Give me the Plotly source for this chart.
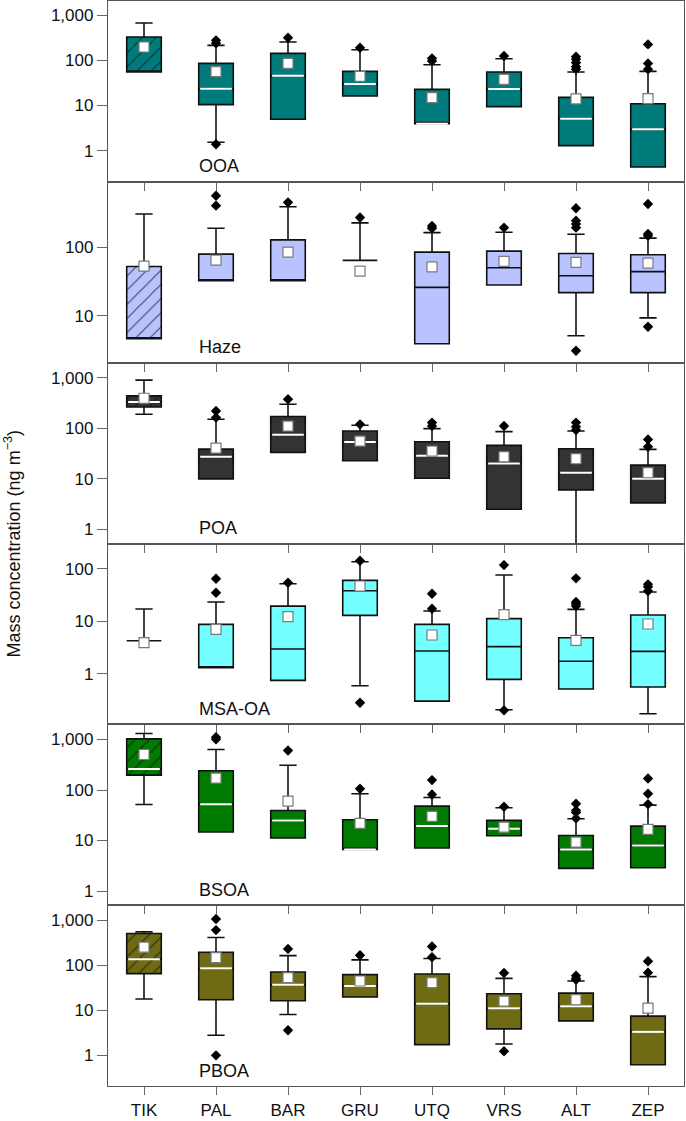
import plotly.graph_objects as go
from plotly.subplots import make_subplots

sites = ["TIK", "PAL", "BAR", "GRU", "UTQ", "VRS", "ALT", "ZEP"]
species = ["OOA", "Haze", "POA", "MSA-OA", "BSOA", "PBOA"]

# ---- OOA ----
ooa_lower = [55, 1.53, 4.93, 16.2, 3.95, 9.4, 1.29, 0.435]
ooa_q1 = [55, 10.4, 4.93, 16.2, 3.95, 9.4, 1.29, 0.435]
ooa_median = [55, 23.5, 45.5, 29.8, 3.95, 23.1, 5.1, 2.96]
ooa_q3 = [326, 85, 142, 56.7, 22.7, 54.8, 15.1, 10.9]
ooa_upper = [664, 213, 253, 171, 79.7, 108, 55, 56.7]
ooa_mean = [196, 55.8, 85, 44, 14.9, 37.8, 13.9, 14.1]
ooa_outliers = [[], [275, 236, 1.38], [315], [189], [110, 96], [124], [120, 105, 88, 72, 63], [224, 85, 63]]

# ---- Haze ----
haze_lower = [4.62, 32.7, 32.7, 64.7, 3.91, 28.3, 5.12, 9.35]
haze_q1 = [4.62, 32.7, 32.7, 64.7, 3.91, 28.3, 21.9, 21.9]
haze_median = [4.62, 32.7, 32.7, 64.7, 26.1, 50.6, 38.6, 44.3]
haze_q3 = [52.8, 80, 129, 64.7, 85.5, 88.5, 81.8, 78.2]
haze_upper = [309, 191, 395, 229, 165, 167, 156, 137]
haze_mean = [53.5, 65.5, 85.5, 45.2, 52.2, 62.5, 60.5, 59.1]
haze_outliers = [[], [571, 409], [457], [274], [207, 191], [195], [374, 247, 221, 195, 3.09], [433, 158, 148, 6.92]]

# ---- POA ----
poa_lower = [190, 10, 33.4, 22.8, 10.3, 2.5, 0.3, 3.34]
poa_q1 = [265, 10, 33.4, 22.8, 10.3, 2.5, 6.04, 3.34]
poa_median = [334, 27.4, 74.8, 53.5, 28.6, 20.2, 13.2, 10]
poa_q3 = [439, 38.8, 171, 88.5, 54.3, 45.9, 39.5, 18.7]
poa_upper = [899, 151, 300, 115, 98.5, 85.9, 88.5, 38.3]
poa_mean = [394, 40.6, 111, 56, 35.5, 27.4, 25, 13.2]
poa_outliers = [[], [221, 163], [377], [120], [130, 111], [111], [130, 108, 93], [60.4, 43.3]]

# ---- MSA-OA ----
msa_lower = [4.25, 1.3, 0.746, 0.59, 0.30, 0.206, 0.51, 0.173]
msa_q1 = [4.25, 1.3, 0.746, 12.9, 0.30, 0.78, 0.51, 0.557]
msa_median = [4.25, 1.3, 2.95, 38.1, 2.7, 3.27, 1.72, 2.66]
msa_q3 = [4.25, 8.7, 19.4, 59.9, 8.7, 11.2, 4.85, 13.1]
msa_upper = [17.1, 23.2, 51.8, 136, 15.6, 75.7, 16.8, 35.9]
msa_mean = [3.9, 6.99, 12.2, 46.8, 5.45, 13.3, 4.31, 8.83]
msa_outliers = [[], [64.5, 34.9], [54.1], [142, 0.28], [33.4, 17.3], [117, 0.2], [65.5, 23.2, 21.5, 19.4], [50.3, 45.4, 37.6]]

# ---- BSOA ----
bsoa_lower = [51.8, 14.7, 11.2, 6.67, 7.09, 12.4, 2.81, 2.89]
bsoa_q1 = [197, 14.7, 11.2, 6.67, 7.09, 12.4, 2.81, 2.89]
bsoa_median = [259, 52.5, 25, 6.67, 19.3, 17.1, 6.67, 8.0]
bsoa_q3 = [1030, 240, 39.4, 25.8, 48, 25, 12.6, 19.3]
bsoa_upper = [1312, 633, 310, 84.1, 71.2, 44.5, 26.9, 50.2]
bsoa_mean = [504, 172, 60.2, 21.8, 30, 18.4, 9.31, 16.6]
bsoa_outliers = [[], [1110, 1014], [605], [106], [157, 81.6], [46.5], [53.3, 39.4, 36, 27.4], [169, 84.1, 52.5]]

# ---- PBOA ----
pboa_lower = [17.7, 2.79, 8.05, 19.6, 1.73, 1.79, 5.82, 0.62]
pboa_q1 = [64.8, 17.1, 16.2, 19.6, 1.73, 3.86, 5.82, 0.62]
pboa_median = [135, 85.2, 36.8, 34.4, 13.9, 11.1, 12.3, 3.31]
pboa_q3 = [504, 193, 70.6, 61.5, 63.7, 23.2, 24, 7.39]
pboa_upper = [549, 410, 163, 131, 140, 51, 44.5, 55.6]
pboa_mean = [250, 147, 52.7, 44.5, 40.8, 15.9, 17.1, 11.1]
pboa_outliers = [[], [1052, 598, 1.0], [229, 3.6], [166], [259, 150], [67, 1.23], [58.5, 51, 47.6], [122, 68.2]]

stats = {
    "OOA": (ooa_lower, ooa_q1, ooa_median, ooa_q3, ooa_upper, ooa_mean, ooa_outliers),
    "Haze": (haze_lower, haze_q1, haze_median, haze_q3, haze_upper, haze_mean, haze_outliers),
    "POA": (poa_lower, poa_q1, poa_median, poa_q3, poa_upper, poa_mean, poa_outliers),
    "MSA-OA": (msa_lower, msa_q1, msa_median, msa_q3, msa_upper, msa_mean, msa_outliers),
    "BSOA": (bsoa_lower, bsoa_q1, bsoa_median, bsoa_q3, bsoa_upper, bsoa_mean, bsoa_outliers),
    "PBOA": (pboa_lower, pboa_q1, pboa_median, pboa_q3, pboa_upper, pboa_mean, pboa_outliers),
}

fill_colors = {"OOA": "#007b7b", "Haze": "#b9c3ff", "POA": "#333333",
               "MSA-OA": "#73ffff", "BSOA": "#007a00", "PBOA": "#6e6b14"}
white_median = {"OOA": True, "Haze": False, "POA": True, "MSA-OA": False, "BSOA": True, "PBOA": True}
hatched_first = {"OOA": True, "Haze": True, "POA": True, "MSA-OA": False, "BSOA": True, "PBOA": True}
y_ranges = {"OOA": [-0.69, 3.31], "Haze": [0.316, 2.96], "POA": [-0.28, 3.30],
            "MSA-OA": [-0.965, 2.48], "BSOA": [-0.28, 3.30], "PBOA": [-0.68, 3.33]}
y_ticks = {"OOA": [1, 10, 100, 1000], "Haze": [10, 100], "POA": [1, 10, 100, 1000],
           "MSA-OA": [1, 10, 100], "BSOA": [1, 10, 100, 1000], "PBOA": [1, 10, 100, 1000]}

BOX_W = 0.48
FONT = "Liberation Sans, Arial, Helvetica, sans-serif"

fig = make_subplots(rows=6, cols=1, vertical_spacing=0)

for r, sp in enumerate(species):
    row = r + 1
    lo, q1, med, q3, up, mean, outl = stats[sp]
    for i, site in enumerate(sites):
        hatch = hatched_first[sp] and i == 0
        if hatch:
            fig.add_trace(go.Bar(
                x=[i], base=[q1[i]], y=[q3[i] - q1[i]], width=BOX_W,
                marker=dict(color=fill_colors[sp], line=dict(width=0),
                            pattern=dict(shape="/", fgcolor="#111111", fgopacity=0.75,
                                         size=10, solidity=0.1)),
                showlegend=False, hoverinfo="skip"), row=row, col=1)
        fig.add_trace(go.Box(
            x=[i], q1=[q1[i]], median=[med[i]], q3=[q3[i]],
            lowerfence=[lo[i]], upperfence=[up[i]],
            width=BOX_W, whiskerwidth=0.5, boxpoints=False,
            fillcolor="rgba(0,0,0,0)" if hatch else fill_colors[sp],
            line=dict(color="#111111", width=1.6),
            showlegend=False, hoverinfo="skip"), row=row, col=1)
    if white_median[sp]:
        mx, my = [], []
        for i in range(len(sites)):
            if hatched_first[sp] and i == 0 and med[i] == q1[i]:
                continue
            mx += [i - BOX_W / 2 + 0.02, i + BOX_W / 2 - 0.02, None]
            my += [med[i], med[i], None]
        fig.add_trace(go.Scatter(x=mx, y=my, mode="lines",
                                 line=dict(color="white", width=2),
                                 showlegend=False, hoverinfo="skip"), row=row, col=1)
    # outliers
    ox, oy = [], []
    for i, vals in enumerate(outl):
        for v in vals:
            ox.append(i)
            oy.append(v)
    fig.add_trace(go.Scatter(x=ox, y=oy, mode="markers",
                             marker=dict(symbol="diamond", size=8, color="black"),
                             showlegend=False, hoverinfo="skip"), row=row, col=1)
    # means
    fig.add_trace(go.Scatter(x=list(range(len(sites))), y=mean, mode="markers",
                             marker=dict(symbol="square", size=10, color="white",
                                         line=dict(color="#7a7a7a", width=1.2)),
                             showlegend=False, hoverinfo="skip"), row=row, col=1)

    fig.update_yaxes(type="log", range=y_ranges[sp], tickvals=y_ticks[sp],
                     ticktext=[f"{v:,}" for v in y_ticks[sp]],
                     ticks="outside", ticklen=10, tickwidth=1.3, tickcolor="#666",
                     showline=True, mirror=True, linecolor="#555", linewidth=1.3,
                     showgrid=False, zeroline=False,
                     tickfont=dict(family=FONT, size=17, color="#111"),
                     row=row, col=1)
    fig.update_xaxes(range=[-0.5, len(sites) - 0.5], tickvals=list(range(len(sites))),
                     ticktext=sites, showticklabels=(row == 6),
                     ticks="outside", ticklen=8, tickwidth=1.3, tickcolor="#666",
                     showline=True, mirror=True, linecolor="#555", linewidth=1.3,
                     showgrid=False, zeroline=False,
                     tickfont=dict(family=FONT, size=17, color="#111"),
                     row=row, col=1)
    yref = "y domain" if row == 1 else f"y{row} domain"
    xref = "x" if row == 1 else f"x{row}"
    fig.add_annotation(x=0.74, xref=xref, y=0.085, yref=yref, text=sp,
                       showarrow=False, xanchor="left", yanchor="middle",
                       font=dict(family=FONT, size=18, color="#111"))

fig.add_annotation(x=-0.165, xref="paper", y=0.5, yref="paper",
                   text="Mass concentration (ng m<sup>\u22123</sup>)", textangle=-90,
                   showarrow=False, xanchor="center", yanchor="middle",
                   font=dict(family=FONT, size=18, color="#111"))

fig.update_layout(width=686, height=1121, margin=dict(l=108, r=2, t=1, b=35),
                  plot_bgcolor="white", paper_bgcolor="white",
                  boxmode="overlay", barmode="overlay", showlegend=False)

fig.write_html("out.html", config={"displayModeBar": False},
               post_script="document.body.style.margin='0';document.body.style.padding='0';")
